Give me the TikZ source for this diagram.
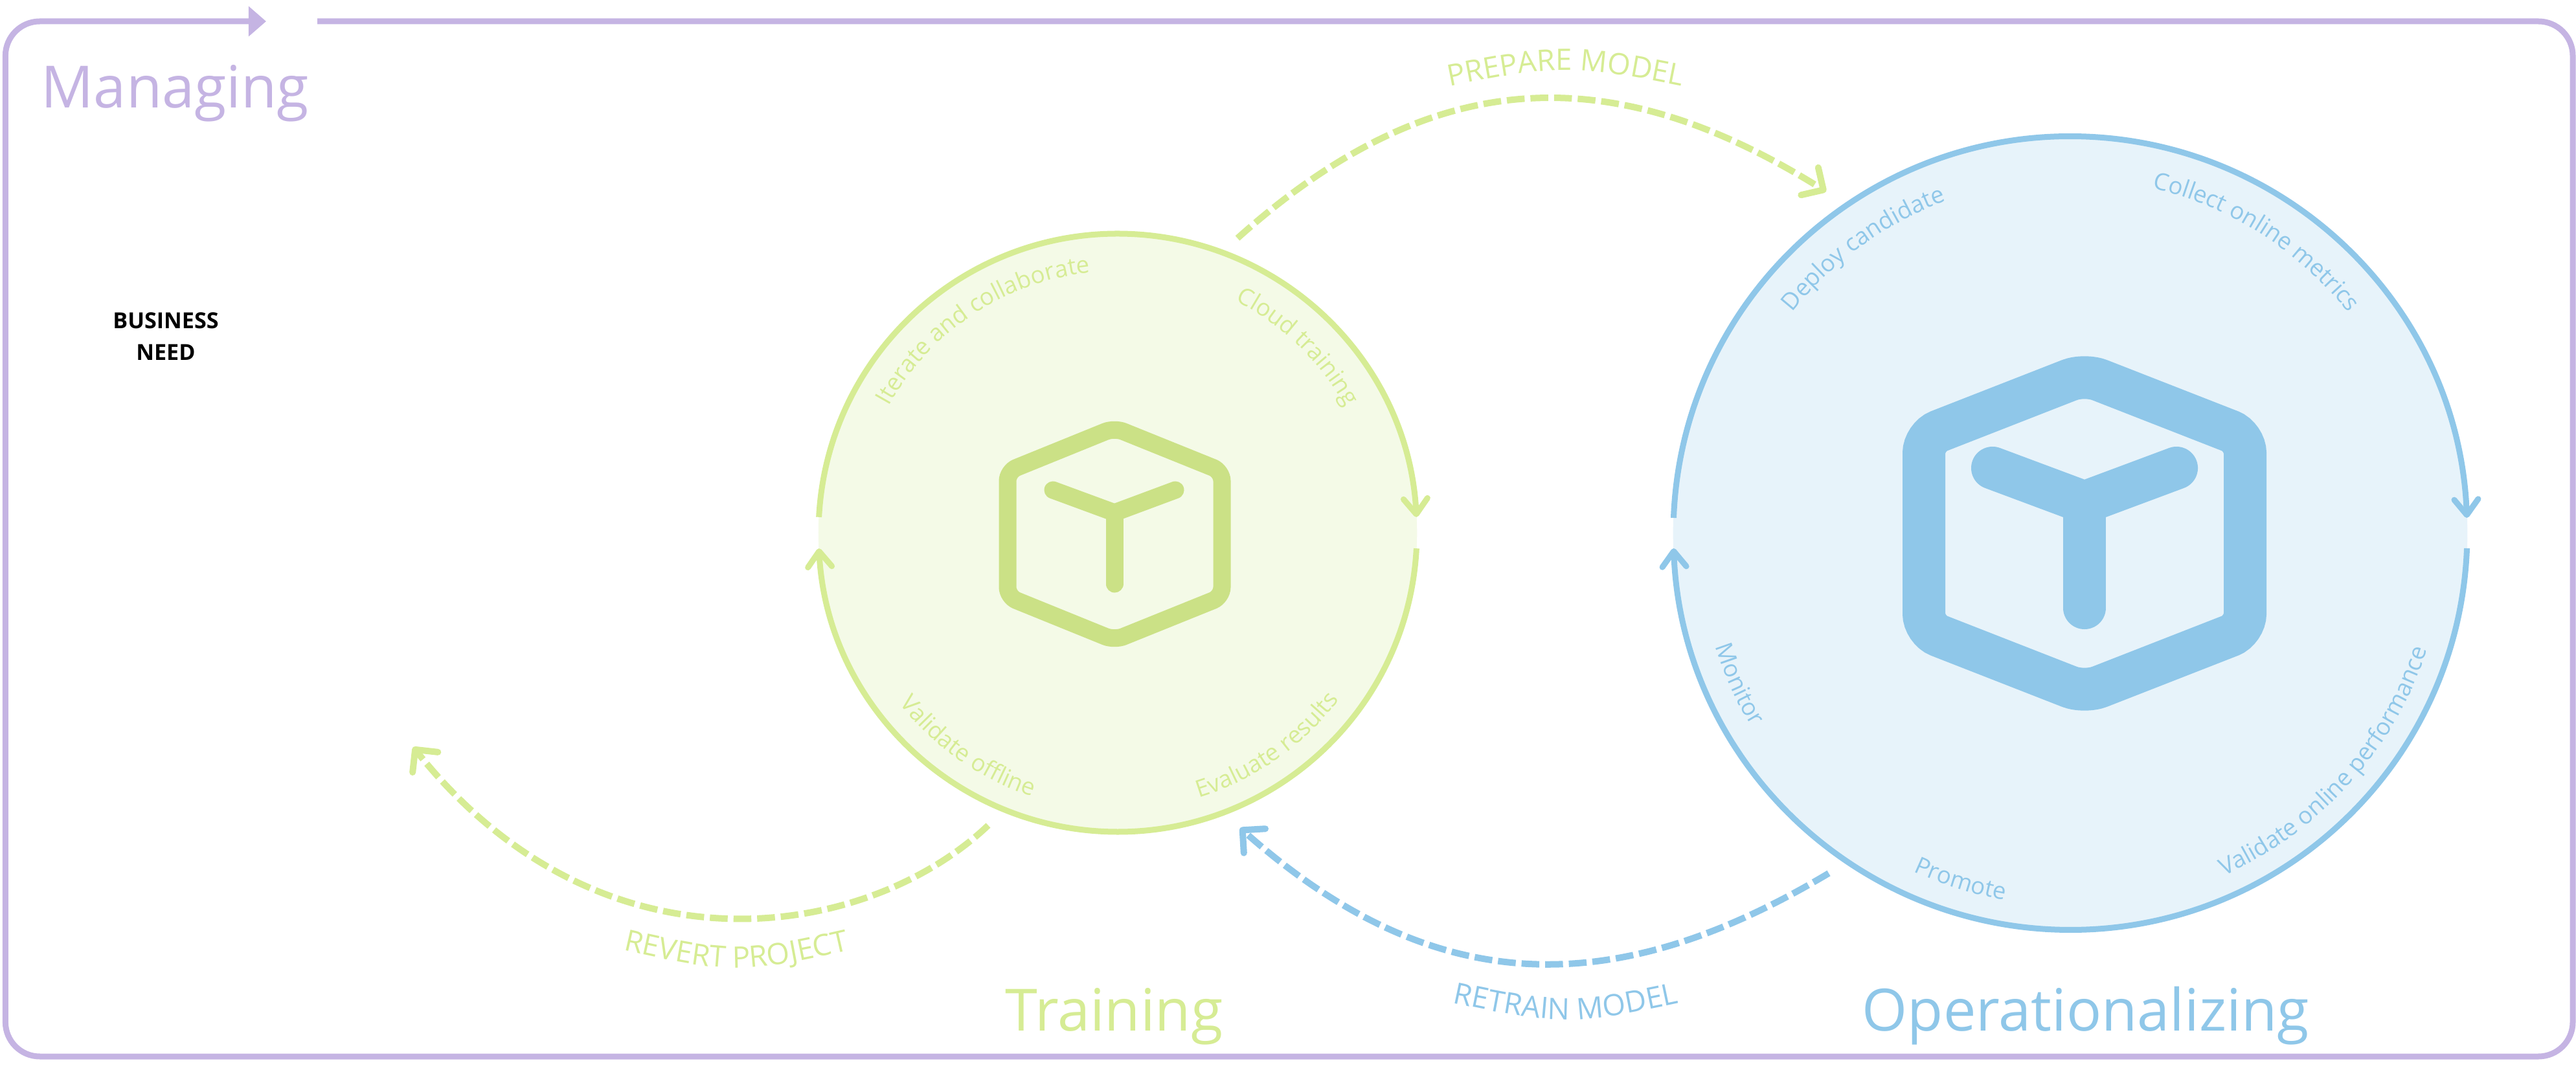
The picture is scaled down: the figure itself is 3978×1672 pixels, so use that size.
\documentclass[tikz,border=0pt]{standalone}
\usepackage{fontspec}
\setmainfont{Open Sans}
\usetikzlibrary{arrows.meta, decorations.text}
\definecolor{trainline}{RGB}{214, 236, 148}
\definecolor{trainfill}{RGB}{244, 250, 231}
\definecolor{traincube}{RGB}{203, 225, 134}
\definecolor{opsline}{RGB}{143, 199, 233}
\definecolor{opsfill}{RGB}{231, 243, 250}
\definecolor{managecol}{RGB}{197, 180, 227}
\newcommand{\ringfont}{\fontsize{10.4}{13}\selectfont}
\newcommand{\bendfont}{\fontsize{13}{15}\selectfont}

\begin{document}
\begin{tikzpicture}[
    x=0.01cm, y=0.01cm,
    ring/.style={line width=0.09cm},
    barb/.tip={Straight Barb[round, length=0.24cm, width=0.37cm]},
    bigbarb/.tip={Straight Barb[round, length=0.25cm, width=0.50cm]},
    flow/.style={line width=0.1cm, dash pattern=on 0.275cm off 0.09cm, -{bigbarb}},
    disc/.style={circle, draw=none, fill=#1, inner sep=0pt},
    title/.style={anchor=base west, inner sep=0pt, text=#1, font=\fontsize{25.6}{30}\selectfont},
    ringtext/.style 2 args={decorate, decoration={text along path, text align=center, text={|\ringfont\color{#1}|#2}}},
    bendtext/.style 2 args={decorate, decoration={text along path, text align=center, text={|\bendfont\color{#1}|#2}}}
]
    \useasboundingbox (0,0) rectangle (3978,1672);

    % ==========================================
    % COORDINATES
    % ==========================================
    % Outer frame
    \coordinate (frame_start) at (490,1639);
    \coordinate (frame_ne) at (3973,1639);
    \coordinate (frame_se) at (3973,40);
    \coordinate (frame_sw) at (8.4,40);
    \coordinate (frame_nw) at (8.4,1639);
    \coordinate (frame_tip) at (411,1639);

    % Curved hand-overs
    \coordinate (prep_start) at (1911,1304);
    \coordinate (prep_tip) at (2820,1376);
    \coordinate (retr_start) at (2824,323);
    \coordinate (retr_tip) at (1915,393);
    \coordinate (rev_start) at (1526,397);
    \coordinate (rev_tip) at (638,518);

    % Training cube
    \coordinate (tc_t) at (1721,1011);
    \coordinate (tc_ul) at (1556,944);
    \coordinate (tc_ll) at (1556,750);
    \coordinate (tc_b) at (1721,683);
    \coordinate (tc_lr) at (1887,750);
    \coordinate (tc_ur) at (1887,944);
    \coordinate (tc_hub) at (1721,880);
    \coordinate (tc_al) at (1626,915);
    \coordinate (tc_ar) at (1815,915);
    \coordinate (tc_foot) at (1721,770);

    % Operationalizing cube
    \coordinate (oc_t) at (3219,1094);
    \coordinate (oc_ul) at (2971,997);
    \coordinate (oc_ll) at (2971,699);
    \coordinate (oc_b) at (3219,602);
    \coordinate (oc_lr) at (3467,699);
    \coordinate (oc_ur) at (3467,997);
    \coordinate (oc_hub) at (3219,896);
    \coordinate (oc_al) at (3077,949);
    \coordinate (oc_ar) at (3361,949);
    \coordinate (oc_foot) at (3219,733);

    % ==========================================
    % FRAME
    % ==========================================
    \draw[managecol, line width=0.09cm, rounded corners=0.53cm, -{Triangle[length=0.27cm, width=0.45cm]}]
        (frame_start) -- (frame_ne) -- (frame_se) -- (frame_sw) -- (frame_nw) -- (frame_tip);

    % ==========================================
    % DISCS AND RINGS
    % ==========================================
    \node[disc=trainfill, minimum size=9.24cm] (train) at (1726,849) {};
    \node[disc=opsfill, minimum size=12.26cm] (ops) at (3197,848.5) {};

    \draw[trainline, ring, -{barb}] ([shift={(177:462)}]train.center) arc[start angle=177, end angle=3, radius=462];
    \draw[trainline, ring, -{barb}] ([shift={(-3:462)}]train.center) arc[start angle=-3, end angle=-177, radius=462];
    \draw[opsline, ring, -{barb}] ([shift={(177.8:613)}]ops.center) arc[start angle=177.8, end angle=2.2, radius=613];
    \draw[opsline, ring, -{barb}] ([shift={(-2.2:613)}]ops.center) arc[start angle=-2.2, end angle=-177.8, radius=613];

    % ==========================================
    % CUBES
    % ==========================================
    \draw[traincube, line width=0.27cm, rounded corners=0.15cm]
        (tc_t) -- (tc_ul) -- (tc_ll) -- (tc_b) -- (tc_lr) -- (tc_ur) -- cycle;
    \draw[traincube, line width=0.27cm, line cap=round] (tc_al) -- (tc_hub) -- (tc_ar);
    \draw[traincube, line width=0.27cm, line cap=round] (tc_hub) -- (tc_foot);

    \draw[opsline, line width=0.66cm, rounded corners=0.25cm]
        (oc_t) -- (oc_ul) -- (oc_ll) -- (oc_b) -- (oc_lr) -- (oc_ur) -- cycle;
    \draw[opsline, line width=0.66cm, line cap=round] (oc_al) -- (oc_hub) -- (oc_ar);
    \draw[opsline, line width=0.66cm, line cap=round] (oc_hub) -- (oc_foot);

    % ==========================================
    % HAND-OVERS (dashed)
    % ==========================================
    \draw[trainline, flow] (prep_start) .. controls (2213,1575) and (2491,1582) .. (prep_tip);
    \draw[opsline, flow] (retr_start) .. controls (2491,124) and (2213,128) .. (retr_tip);
    \draw[trainline, flow] (rev_start) .. controls (1340,220) and (930,152) .. (rev_tip);

    \path[bendtext={trainline}{PREPARE MODEL}] (2196,1530) .. controls (2418,1575) .. (2640,1530);
    \path[bendtext={opsline}{RETRAIN MODEL}] (2196,133) .. controls (2418,85) .. (2640,133);
    \path[bendtext={trainline}{REVERT PROJECT}] (917,215) .. controls (1137,164) .. (1357,215);

    % ==========================================
    % RING LABELS
    % ==========================================
    % Training
    \path[ringtext={trainline}{Iterate and collaborate}] ([shift={(163.5:404)}]train.center) arc[start angle=163.5, end angle=83.5, radius=404];
    \path[ringtext={trainline}{Cloud training}] ([shift={(86:402)}]train.center) arc[start angle=86, end angle=6, radius=402];
    \path[ringtext={trainline}{Validate offline}] ([shift={(195:428)}]train.center) arc[start angle=195, end angle=275, radius=428];
    \path[ringtext={trainline}{Evaluate results}] ([shift={(265:428)}]train.center) arc[start angle=265, end angle=345, radius=428];

    % Operationalizing
    \path[ringtext={opsline}{Deploy candidate}] ([shift={(166:548)}]ops.center) arc[start angle=166, end angle=86, radius=548];
    \path[ringtext={opsline}{Collect online metrics}] ([shift={(97.5:548)}]ops.center) arc[start angle=97.5, end angle=17.5, radius=548];
    \path[ringtext={opsline}{Validate online performance}] ([shift={(278:580)}]ops.center) arc[start angle=278, end angle=358, radius=580];
    \path[ringtext={opsline}{Promote}] ([shift={(212.5:576)}]ops.center) arc[start angle=212.5, end angle=292.5, radius=576];
    \path[ringtext={opsline}{Monitor}] ([shift={(164.5:576)}]ops.center) arc[start angle=164.5, end angle=244.5, radius=576];

    % ==========================================
    % TITLES
    % ==========================================
    \node[title=managecol] (managing) at (63,1505) {Managing};
    \node[title=trainline] (training) at (1552,80) {Training};
    \node[title=opsline] (operating) at (2875,80) {Operationalizing};
    \node[align=center, inner sep=0pt, font=\fontsize{9.7}{13.94}\selectfont\bfseries] (need) at (256,1152) {BUSINESS\\NEED};

\end{tikzpicture}
\end{document}
